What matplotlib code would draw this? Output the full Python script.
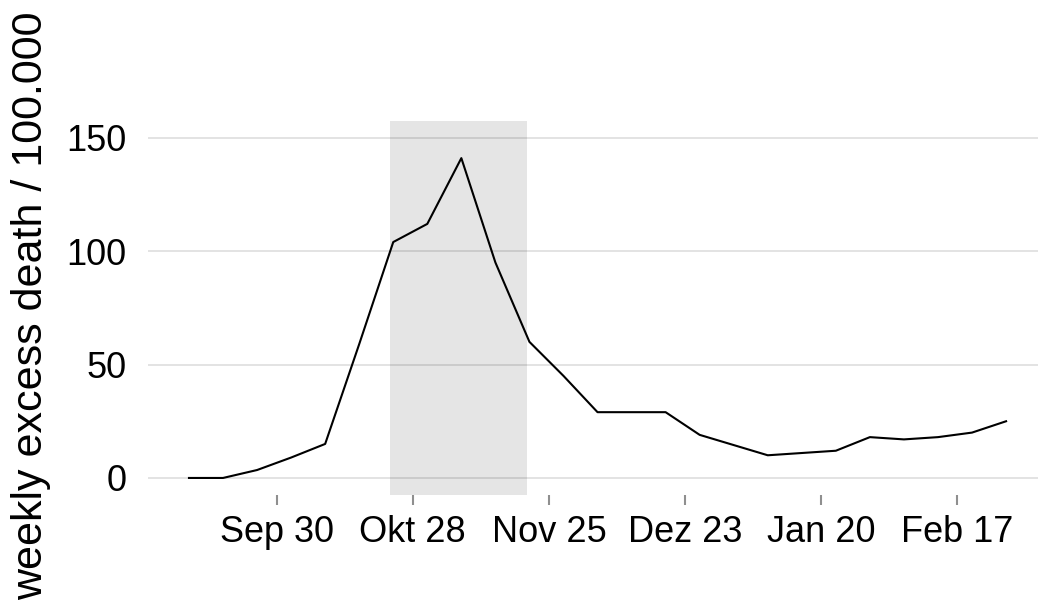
import pandas as pd
import matplotlib.pyplot as plt

plt.rcParams['font.family'] = ['Liberation Sans', 'DejaVu Sans']

# weekly points, one per week starting Sep 12
start_date = "2020-09-12"
excess = [0, 0, 3.5, 9, 15, 59, 104, 112, 141, 95, 60, 45, 29, 29, 29,
          19, 14.5, 10, 11, 12, 18, 17, 18, 20, 25]

tick_dates = ["2020-09-30", "2020-10-28", "2020-11-25", "2020-12-23",
              "2021-01-20", "2021-02-17"]
tick_labels = ["Sep 30", "Okt 28", "Nov 25", "Dez 23", "Jan 20", "Feb 17"]

shade_from = "2020-10-23 10:00"
shade_to = "2020-11-20 10:00"

dates = pd.date_range(start_date, periods=len(excess), freq="7D")

fig = plt.figure(figsize=(10.38, 6.08), dpi=100)
ax = fig.add_axes([0.1427, 0.1859, 0.8659, 0.6156])

ax.plot(dates, excess, color="black", linewidth=1.5, zorder=3)
ax.axvspan(pd.Timestamp(shade_from), pd.Timestamp(shade_to),
           color="black", alpha=0.1, linewidth=0, zorder=2)

# x range with 5% padding like ggplot
span = dates[-1] - dates[0]
ax.set_xlim(dates[0] - span * 0.05, dates[-1] + span * 0.05)
ax.set_ylim(-7.5, 157.5)

ax.set_yticks([0, 50, 100, 150])
ax.yaxis.grid(True, color="#e3e3e3", linewidth=1.4, zorder=0)
ax.xaxis.grid(False)

ax.set_xticks(pd.to_datetime(tick_dates))
ax.set_xticklabels(tick_labels)

ax.tick_params(axis="x", length=7, width=1.5, color="#8f8f8f",
               labelsize=26, pad=7.5)
ax.tick_params(axis="y", length=0, labelsize=26, pad=15.5)

for s in ax.spines.values():
    s.set_visible(False)

fig.text(31 / 1038, 1 - 306 / 608, "weekly excess death / 100.000",
         rotation=90, ha="center", va="center", fontsize=31)

plt.savefig("out.png", dpi=100)
